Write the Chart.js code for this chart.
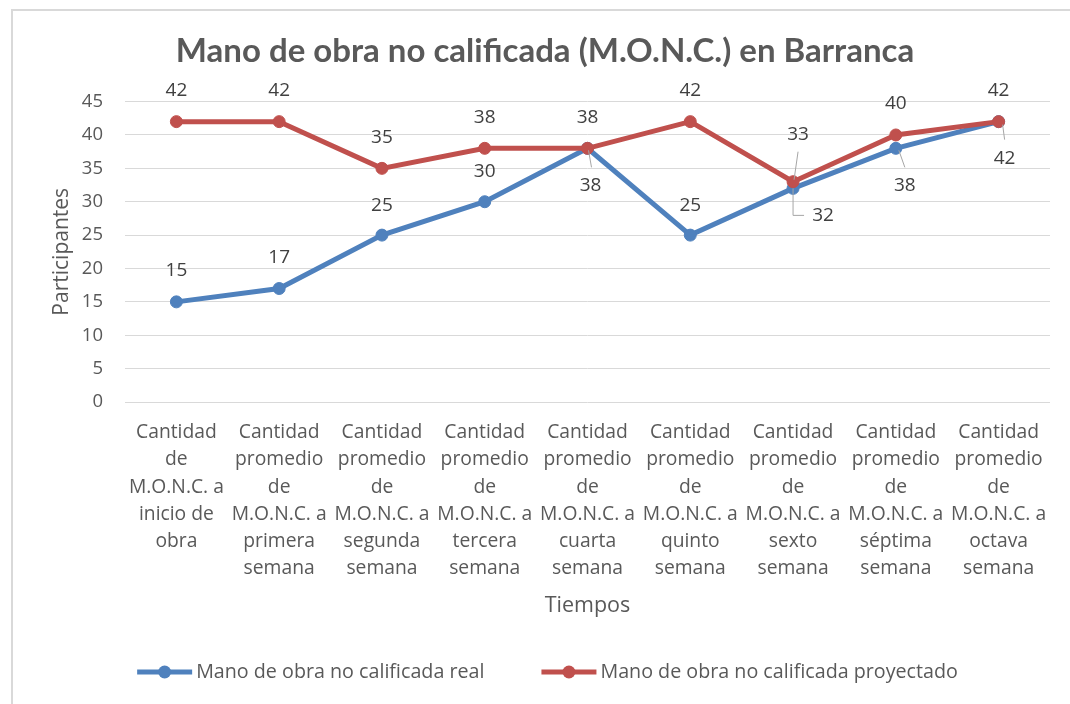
<!DOCTYPE html>
<html><head><meta charset="utf-8">
<script src="https://cdn.jsdelivr.net/npm/chart.js@4.4.1/dist/chart.umd.min.js"></script>
<style>html,body{margin:0;padding:0;background:#fff;}#wrap{position:relative;width:1070px;height:704px;}</style>
</head><body><div id="wrap"><canvas id="c" width="1070" height="704"></canvas></div>
<script>
const chartTitle = 'Mano de obra no calificada (M.O.N.C.) en Barranca';
const categories = [
  ['Cantidad','de','M.O.N.C. a','inicio de','obra'],
  ['Cantidad','promedio','de','M.O.N.C. a','primera','semana'],
  ['Cantidad','promedio','de','M.O.N.C. a','segunda','semana'],
  ['Cantidad','promedio','de','M.O.N.C. a','tercera','semana'],
  ['Cantidad','promedio','de','M.O.N.C. a','cuarta','semana'],
  ['Cantidad','promedio','de','M.O.N.C. a','quinto','semana'],
  ['Cantidad','promedio','de','M.O.N.C. a','sexto','semana'],
  ['Cantidad','promedio','de','M.O.N.C. a','séptima','semana'],
  ['Cantidad','promedio','de','M.O.N.C. a','octava','semana']
];
const realValues = [15, 17, 25, 30, 38, 25, 32, 38, 42];
const projectedValues = [42, 42, 35, 38, 38, 42, 33, 40, 42];
const seriesNames = ['Mano de obra no calificada real', 'Mano de obra no calificada proyectado'];
const yAxisTitle = 'Participantes';
const xAxisTitle = 'Tiempos';
const yMin = 0, yMax = 45, yStep = 5;

const BLUE = '#4F81BD', RED = '#C0504D';
const FONT = "'Open Sans', sans-serif";

// label placement (dx, dy from point) and optional leader lines, per dataset
const labelPlacement = [
  {
    offsets: [[0,-31],[0,-31],[0,-30],[0,-30],[3,37],[0,-30],[30,27],[9,37],[6,37]],
    leaders: {4: [[1,2],[4,19]], 6: [[0,0],[0,27],[11,27]], 7: [[3,2],[9,19]], 8: [[4,3],[6,18]]}
  },
  {
    offsets: [[0,-31],[0,-31],[0,-31],[0,-31],[0,-31],[0,-31],[5,-47],[0,-31],[0,-31]],
    leaders: {6: [[1,-2],[5,-30]]}
  }
];

const framePlugin = {
  id: 'frame',
  beforeDraw(chart) {
    const ctx = chart.ctx;
    ctx.save();
    ctx.fillStyle = '#fff';
    ctx.fillRect(0, 0, chart.width, chart.height);
    ctx.strokeStyle = '#D9D9D9';
    ctx.lineWidth = 2;
    ctx.beginPath();
    ctx.moveTo(12, chart.height);
    ctx.lineTo(12, 10);
    ctx.lineTo(chart.width, 10);
    ctx.stroke();
    ctx.restore();
  }
};

const dataLabelPlugin = {
  id: 'dataLabels',
  afterDatasetsDraw(chart) {
    const ctx = chart.ctx;
    ctx.save();
    chart.data.datasets.forEach((ds, di) => {
      const meta = chart.getDatasetMeta(di);
      const pl = labelPlacement[di];
      meta.data.forEach((pt, i) => {
        const lead = pl.leaders[i];
        if (lead) {
          ctx.strokeStyle = '#A6A6A6';
          ctx.lineWidth = 1;
          ctx.beginPath();
          lead.forEach((p, k) => {
            const x = pt.x + p[0], y = pt.y + p[1];
            if (k === 0) ctx.moveTo(x, y); else ctx.lineTo(x, y);
          });
          ctx.stroke();
        }
      });
    });
    chart.data.datasets.forEach((ds, di) => {
      const meta = chart.getDatasetMeta(di);
      const pl = labelPlacement[di];
      meta.data.forEach((pt, i) => {
        const off = pl.offsets[i];
        ctx.font = '19px ' + FONT;
        ctx.fillStyle = '#404040';
        ctx.textAlign = 'center';
        ctx.textBaseline = 'middle';
        ctx.fillText(String(ds.data[i]), pt.x + off[0], pt.y + off[1]);
      });
    });
    ctx.restore();
  }
};

const legendPlugin = {
  id: 'customLegend',
  afterDraw(chart) {
    const ctx = chart.ctx;
    ctx.save();
    ctx.font = '19.7px ' + FONT;
    const markerW = 55, textGap = 4, itemGap = 57;
    const items = chart.data.datasets.map(ds => ({label: ds.label, color: ds.borderColor, w: markerW + textGap + ctx.measureText(ds.label).width}));
    const total = items.reduce((s, it) => s + it.w, 0) + itemGap * (items.length - 1);
    const cx = (chart.chartArea.left + chart.chartArea.right) / 2 - 40;
    let x = cx - total / 2;
    const y = 672;
    items.forEach(it => {
      ctx.strokeStyle = it.color;
      ctx.lineWidth = 5;
      ctx.beginPath();
      ctx.moveTo(x, y); ctx.lineTo(x + markerW, y);
      ctx.stroke();
      ctx.fillStyle = it.color;
      ctx.beginPath();
      ctx.arc(x + markerW / 2, y, 6.5, 0, Math.PI * 2);
      ctx.fill();
      ctx.fillStyle = '#595959';
      ctx.textAlign = 'left';
      ctx.textBaseline = 'middle';
      ctx.fillText(it.label, x + markerW + textGap, y);
      x += it.w + itemGap;
    });
    ctx.restore();
  }
};

new Chart(document.getElementById('c'), {
  type: 'line',
  data: {
    labels: categories,
    datasets: [
      {label: seriesNames[0], data: realValues, borderColor: BLUE, backgroundColor: BLUE,
       borderWidth: 5, pointRadius: 6, pointBorderWidth: 1, pointBackgroundColor: BLUE, pointBorderColor: BLUE,
       tension: 0, order: 1},
      {label: seriesNames[1], data: projectedValues, borderColor: RED, backgroundColor: RED,
       borderWidth: 5, pointRadius: 6, pointBorderWidth: 1, pointBackgroundColor: RED, pointBorderColor: RED,
       tension: 0, order: 0}
    ]
  },
  options: {
    responsive: false,
    animation: false,
    devicePixelRatio: 1,
    layout: {padding: {top: 9, left: 40, right: 20, bottom: 85}},
    plugins: {
      legend: {display: false},
      tooltip: {enabled: false},
      title: {display: true, text: chartTitle, color: '#595959',
        font: {family: "'Lato', sans-serif", weight: 'bold', size: 33}, padding: {top: 23, bottom: 30}}
    },
    scales: {
      x: {
        offset: true,
        grid: {display: false, drawTicks: false},
        border: {display: false},
        ticks: {autoSkip: false, maxRotation: 0, minRotation: 0, padding: 17, color: '#595959',
          font: {family: FONT, size: 19.3, lineHeight: 1.41}},
        title: {display: true, text: xAxisTitle, color: '#595959', font: {family: FONT, size: 21.5}, padding: {top: 0, bottom: 0}},
        afterFit(scale) { scale.height = 217; }
      },
      y: {
        min: yMin, max: yMax,
        grid: {color: '#D9D9D9', lineWidth: 1, drawTicks: false},
        border: {display: false},
        ticks: {stepSize: yStep, padding: 22, color: '#595959', font: {family: FONT, size: 18.5}},
        title: {display: true, text: yAxisTitle, color: '#595959', font: {family: FONT, size: 21}, padding: {top: 9, bottom: 0}},
        afterFit(scale) { scale.width = 85; }
      }
    }
  },
  plugins: [framePlugin, dataLabelPlugin, legendPlugin]
});
</script></body></html>
